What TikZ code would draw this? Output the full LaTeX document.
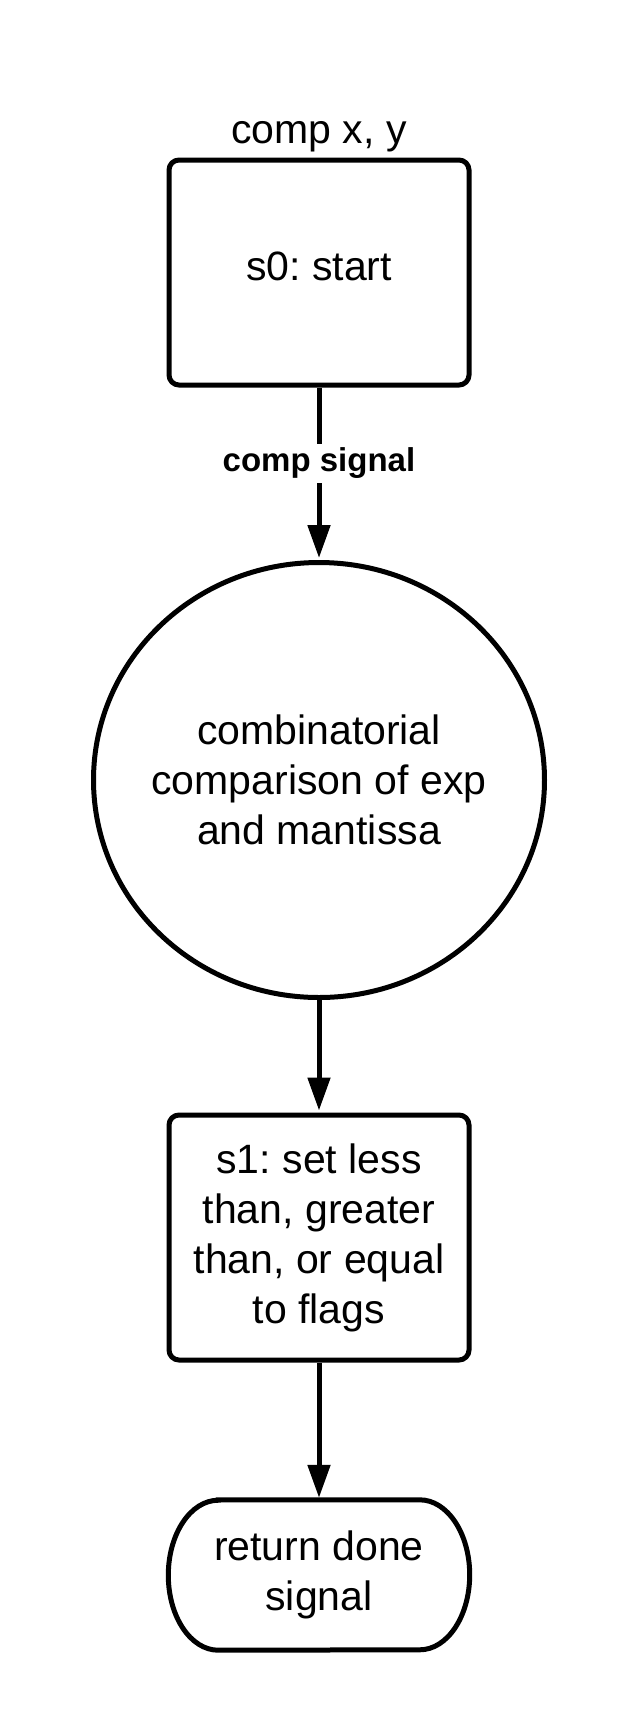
\documentclass[tikz,border=0pt]{standalone}
\usepackage{fontspec}
\setmainfont{Liberation Sans}
\usetikzlibrary{shapes.geometric,arrows.meta}
\frenchspacing
\begin{document}
\begin{tikzpicture}[x=1pt,y=1pt,
  lw/.style={line width=5pt},
  maintext/.style={font=\fontsize{41}{50}\selectfont, align=center},
  stbox/.style={draw, lw, rounded corners=10pt, minimum width=300pt, inner sep=0pt, maintext},
  proc/.style={draw, lw, ellipse, minimum width=451pt, minimum height=435pt, inner sep=0pt},
  term/.style={draw=none, minimum width=301pt, minimum height=150pt, inner sep=0pt, maintext},
  arr/.style={lw, -{Triangle[length=33pt,width=22pt]}, shorten >=2pt},
  lbl/.style={fill=white, inner sep=4pt, font=\bfseries\fontsize{33}{38}\selectfont}
]
\useasboundingbox (0,0) rectangle (638,-1725);

\node[maintext, anchor=base] (title) at (319,-143) {comp x, y};
\node[stbox, minimum height=225pt, text height=29pt, text depth=14pt] (s0) at (319,-272.5) {s0: start};
\node[proc, label={[maintext, inner sep=0pt]center:combinatorial\\comparison of exp\\and mantissa}] (c) at (319,-780) {};
\node[stbox, minimum height=245pt] (s1) at (319,-1237.5) {s1: set less\\than, greater\\than, or equal\\to flags};
\node[term] (t) at (319,-1575) {return done\\signal};
\draw[lw] ([xshift=50pt]t.north west) -- ([xshift=-50pt]t.north east)
  arc[start angle=90, end angle=-90, x radius=50pt, y radius=75pt]
  -- ([xshift=50pt]t.south west)
  arc[start angle=270, end angle=90, x radius=50pt, y radius=75pt] -- cycle;

\draw[arr] (s0) -- (c) node[lbl, pos=0.44] (lab) {comp signal};
\draw[arr] (c) -- (s1);
\draw[arr] (s1) -- (t.north);
\end{tikzpicture}
\end{document}
